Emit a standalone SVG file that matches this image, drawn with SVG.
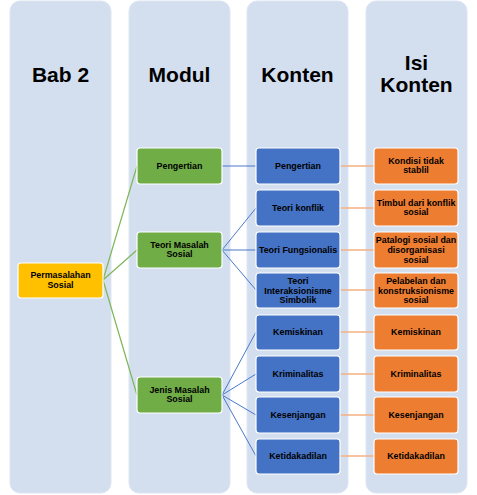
<svg xmlns="http://www.w3.org/2000/svg" width="477" height="495" viewBox="0 0 477 495">
<style>
.col{fill:#D3DEEF;stroke:#DDE5F3;stroke-width:1}
.hd{font-family:"Liberation Sans",Arial,sans-serif;font-weight:bold;font-size:21px;fill:#000;text-anchor:middle}
.n{stroke:#fff;stroke-width:1.2}
.y{fill:#FFC000}.g{fill:#70AD47}.b{fill:#4472C4}.o{fill:#ED7D31}
.t{font-family:"Liberation Sans",Arial,sans-serif;font-weight:bold;font-size:8.9px;fill:#000;text-anchor:middle}
.cg{stroke:#7FB65A;stroke-width:1.2;fill:none}
.cb{stroke:#4A78CC;stroke-width:1;fill:none}
.co{stroke:#F4B183;stroke-width:1.5;fill:none}
</style>
<g id="columns">
<rect class="col" x="10" y="1" width="101" height="492" rx="10"/>
<rect class="col" x="129" y="1" width="101" height="492" rx="10"/>
<rect class="col" x="247" y="1" width="101" height="492" rx="10"/>
<rect class="col" x="366" y="1" width="101" height="492" rx="10"/>
<text class="hd" x="60.5" y="82">Bab 2</text>
<text class="hd" x="179.5" y="82">Modul</text>
<text class="hd" x="297.5" y="82">Konten</text>
<text class="hd" x="416.5" y="70">Isi</text>
<text class="hd" x="416.5" y="92">Konten</text>
</g>
<g id="connectors">
<path class="cg" d="M103,280 L137,166 M103,280 L137,250 M103,280 L137,395"/>
<path class="cb" d="M222,166 L256,166 M222,250 L256,208 M222,250 L256,250 M222,250 L256,290 M222,395 L256,332 M222,395 L256,374 M222,395 L256,415 M222,395 L256,456"/>
<path class="co" d="M340,166 L374,166 M340,208 L374,208 M340,250 L374,250 M340,290 L374,290 M340,332 L374,332 M340,374 L374,374 M340,415 L374,415 M340,456 L374,456"/>
</g>
<g id="bab2"><rect class="n y" x="18" y="263" width="85" height="35" rx="3"/><text class="t" x="60.5" y="278">Permasalahan</text><text class="t" x="60.5" y="288">Sosial</text></g>
<g id="m-pengertian"><rect class="n g" x="137" y="148" width="85" height="36" rx="3"/><text class="t" x="179.5" y="169">Pengertian</text></g>
<g id="m-teori"><rect class="n g" x="137" y="232" width="85" height="36" rx="3"/><text class="t" x="179.5" y="247.5">Teori Masalah</text><text class="t" x="179.5" y="257.2">Sosial</text></g>
<g id="m-jenis"><rect class="n g" x="137" y="377" width="85" height="36" rx="3"/><text class="t" x="179.5" y="392.5">Jenis Masalah</text><text class="t" x="179.5" y="402.2">Sosial</text></g>
<g id="k-pengertian"><rect class="n b" x="256" y="148" width="84" height="36" rx="3"/><text class="t" x="298" y="169">Pengertian</text></g>
<g id="k-konflik"><rect class="n b" x="256" y="190" width="84" height="36" rx="3"/><text class="t" x="298" y="211">Teori konflik</text></g>
<g id="k-fungsionalis"><rect class="n b" x="256" y="232" width="84" height="36" rx="3"/><text class="t" x="298" y="253">Teori Fungsionalis</text></g>
<g id="k-interaksionisme"><rect class="n b" x="256" y="273" width="84" height="35" rx="3"/><text class="t" x="298" y="283.5">Teori</text><text class="t" x="298" y="293.5">Interaksionisme</text><text class="t" x="298" y="303">Simbolik</text></g>
<g id="k-kemiskinan"><rect class="n b" x="256" y="315" width="84" height="35" rx="3"/><text class="t" x="298" y="335">Kemiskinan</text></g>
<g id="k-kriminalitas"><rect class="n b" x="256" y="356" width="84" height="36" rx="3"/><text class="t" x="298" y="377">Kriminalitas</text></g>
<g id="k-kesenjangan"><rect class="n b" x="256" y="397" width="84" height="36" rx="3"/><text class="t" x="298" y="418">Kesenjangan</text></g>
<g id="k-ketidakadilan"><rect class="n b" x="256" y="439" width="84" height="35" rx="3"/><text class="t" x="298" y="459">Ketidakadilan</text></g>
<g id="i-kondisi"><rect class="n o" x="374" y="148" width="84" height="36" rx="3"/><text class="t" x="416" y="163.5">Kondisi tidak</text><text class="t" x="416" y="173.2">stablil</text></g>
<g id="i-timbul"><rect class="n o" x="374" y="190" width="84" height="36" rx="3"/><text class="t" x="416" y="205.5">Timbul dari konflik</text><text class="t" x="416" y="215.2">sosial</text></g>
<g id="i-patologi"><rect class="n o" x="374" y="232" width="84" height="36" rx="3"/><text class="t" x="416" y="243">Patalogi sosial dan</text><text class="t" x="416" y="253">disorganisasi</text><text class="t" x="416" y="262.5">sosial</text></g>
<g id="i-pelabelan"><rect class="n o" x="374" y="273" width="84" height="35" rx="3"/><text class="t" x="416" y="283.5">Pelabelan dan</text><text class="t" x="416" y="293.5">konstruksionisme</text><text class="t" x="416" y="303">sosial</text></g>
<g id="i-kemiskinan"><rect class="n o" x="374" y="315" width="84" height="35" rx="3"/><text class="t" x="416" y="335">Kemiskinan</text></g>
<g id="i-kriminalitas"><rect class="n o" x="374" y="356" width="84" height="36" rx="3"/><text class="t" x="416" y="377">Kriminalitas</text></g>
<g id="i-kesenjangan"><rect class="n o" x="374" y="397" width="84" height="36" rx="3"/><text class="t" x="416" y="418">Kesenjangan</text></g>
<g id="i-ketidakadilan"><rect class="n o" x="374" y="439" width="84" height="35" rx="3"/><text class="t" x="416" y="459">Ketidakadilan</text></g>
</svg>
